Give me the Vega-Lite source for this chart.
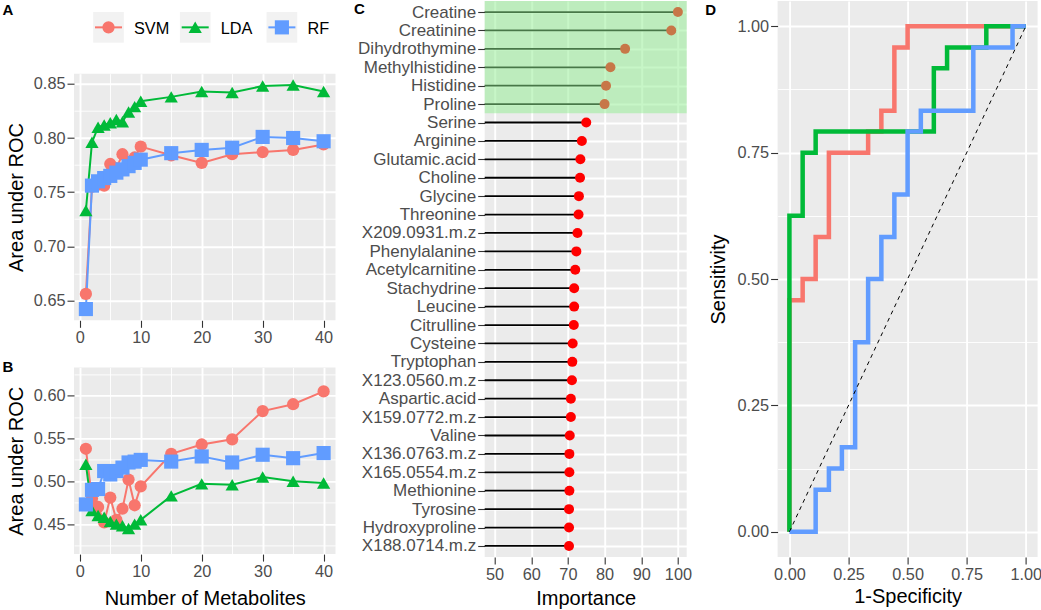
{
  "$schema": "https://vega.github.io/schema/vega-lite/v6.json",
  "padding": {"left": 2, "top": 0, "right": 0, "bottom": 0},
  "background": "white",
  "config": {
    "font": "Liberation Sans",
    "view": {"fill": "#EBEBEB", "stroke": null},
    "axis": {
      "domain": false,
      "gridColor": "white",
      "gridWidth": 1.9,
      "tickColor": "#333333",
      "tickSize": 7,
      "tickWidth": 1.1,
      "labelColor": "#4D4D4D",
      "labelFontSize": 16.3,
      "labelPadding": 2,
      "titleFontSize": 20,
      "titleFontWeight": "normal",
      "titleColor": "black"
    },
    "title": {"fontSize": 15, "fontWeight": "bold", "color": "black", "anchor": "start", "frame": "group", "offset": 0, "baseline": "alphabetic"}
  },
  "datasets": {
    "models": [{"model": "SVM"}, {"model": "LDA"}, {"model": "RF"}],
    "perfA": [
      {"model": "SVM", "n": 1, "auc": 0.656}, {"model": "SVM", "n": 2, "auc": 0.755}, {"model": "SVM", "n": 3, "auc": 0.757}, {"model": "SVM", "n": 4, "auc": 0.756},
      {"model": "SVM", "n": 5, "auc": 0.776}, {"model": "SVM", "n": 6, "auc": 0.772}, {"model": "SVM", "n": 7, "auc": 0.785}, {"model": "SVM", "n": 8, "auc": 0.778},
      {"model": "SVM", "n": 9, "auc": 0.782}, {"model": "SVM", "n": 10, "auc": 0.792}, {"model": "SVM", "n": 15, "auc": 0.784}, {"model": "SVM", "n": 20, "auc": 0.777},
      {"model": "SVM", "n": 25, "auc": 0.785}, {"model": "SVM", "n": 30, "auc": 0.787}, {"model": "SVM", "n": 35, "auc": 0.789}, {"model": "SVM", "n": 40, "auc": 0.794},
      {"model": "LDA", "n": 1, "auc": 0.733}, {"model": "LDA", "n": 2, "auc": 0.796}, {"model": "LDA", "n": 3, "auc": 0.810}, {"model": "LDA", "n": 4, "auc": 0.812},
      {"model": "LDA", "n": 5, "auc": 0.814}, {"model": "LDA", "n": 6, "auc": 0.817}, {"model": "LDA", "n": 7, "auc": 0.815}, {"model": "LDA", "n": 8, "auc": 0.824},
      {"model": "LDA", "n": 9, "auc": 0.829}, {"model": "LDA", "n": 10, "auc": 0.834}, {"model": "LDA", "n": 15, "auc": 0.838}, {"model": "LDA", "n": 20, "auc": 0.843},
      {"model": "LDA", "n": 25, "auc": 0.842}, {"model": "LDA", "n": 30, "auc": 0.848}, {"model": "LDA", "n": 35, "auc": 0.849}, {"model": "LDA", "n": 40, "auc": 0.843},
      {"model": "RF", "n": 1, "auc": 0.642}, {"model": "RF", "n": 2, "auc": 0.756}, {"model": "RF", "n": 3, "auc": 0.760}, {"model": "RF", "n": 4, "auc": 0.763},
      {"model": "RF", "n": 5, "auc": 0.765}, {"model": "RF", "n": 6, "auc": 0.768}, {"model": "RF", "n": 7, "auc": 0.771}, {"model": "RF", "n": 8, "auc": 0.774},
      {"model": "RF", "n": 9, "auc": 0.777}, {"model": "RF", "n": 10, "auc": 0.780}, {"model": "RF", "n": 15, "auc": 0.786}, {"model": "RF", "n": 20, "auc": 0.789},
      {"model": "RF", "n": 25, "auc": 0.791}, {"model": "RF", "n": 30, "auc": 0.801}, {"model": "RF", "n": 35, "auc": 0.800}, {"model": "RF", "n": 40, "auc": 0.797}
    ],
    "perfB": [
      {"model": "SVM", "n": 1, "auc": 0.538}, {"model": "SVM", "n": 2, "auc": 0.480}, {"model": "SVM", "n": 3, "auc": 0.470}, {"model": "SVM", "n": 4, "auc": 0.452},
      {"model": "SVM", "n": 5, "auc": 0.481}, {"model": "SVM", "n": 6, "auc": 0.455}, {"model": "SVM", "n": 7, "auc": 0.468}, {"model": "SVM", "n": 8, "auc": 0.502},
      {"model": "SVM", "n": 9, "auc": 0.472}, {"model": "SVM", "n": 10, "auc": 0.494}, {"model": "SVM", "n": 15, "auc": 0.532}, {"model": "SVM", "n": 20, "auc": 0.543},
      {"model": "SVM", "n": 25, "auc": 0.549}, {"model": "SVM", "n": 30, "auc": 0.582}, {"model": "SVM", "n": 35, "auc": 0.590}, {"model": "SVM", "n": 40, "auc": 0.605},
      {"model": "LDA", "n": 1, "auc": 0.520}, {"model": "LDA", "n": 2, "auc": 0.466}, {"model": "LDA", "n": 3, "auc": 0.460}, {"model": "LDA", "n": 4, "auc": 0.458},
      {"model": "LDA", "n": 5, "auc": 0.453}, {"model": "LDA", "n": 6, "auc": 0.450}, {"model": "LDA", "n": 7, "auc": 0.448}, {"model": "LDA", "n": 8, "auc": 0.445},
      {"model": "LDA", "n": 9, "auc": 0.450}, {"model": "LDA", "n": 10, "auc": 0.455}, {"model": "LDA", "n": 15, "auc": 0.483}, {"model": "LDA", "n": 20, "auc": 0.497},
      {"model": "LDA", "n": 25, "auc": 0.496}, {"model": "LDA", "n": 30, "auc": 0.505}, {"model": "LDA", "n": 35, "auc": 0.500}, {"model": "LDA", "n": 40, "auc": 0.498},
      {"model": "RF", "n": 1, "auc": 0.473}, {"model": "RF", "n": 2, "auc": 0.490}, {"model": "RF", "n": 3, "auc": 0.491}, {"model": "RF", "n": 4, "auc": 0.512},
      {"model": "RF", "n": 5, "auc": 0.508}, {"model": "RF", "n": 6, "auc": 0.512}, {"model": "RF", "n": 7, "auc": 0.516}, {"model": "RF", "n": 8, "auc": 0.522},
      {"model": "RF", "n": 9, "auc": 0.523}, {"model": "RF", "n": 10, "auc": 0.525}, {"model": "RF", "n": 15, "auc": 0.523}, {"model": "RF", "n": 20, "auc": 0.529},
      {"model": "RF", "n": 25, "auc": 0.522}, {"model": "RF", "n": 30, "auc": 0.531}, {"model": "RF", "n": 35, "auc": 0.527}, {"model": "RF", "n": 40, "auc": 0.533}
    ],
    "imp": [
      {"name": "Creatine", "imp": 100.0}, {"name": "Creatinine", "imp": 98.2}, {"name": "Dihydrothymine", "imp": 85.6},
      {"name": "Methylhistidine", "imp": 81.6}, {"name": "Histidine", "imp": 80.4}, {"name": "Proline", "imp": 80.0},
      {"name": "Serine", "imp": 75.0}, {"name": "Arginine", "imp": 73.8}, {"name": "Glutamic.acid", "imp": 73.4},
      {"name": "Choline", "imp": 73.3}, {"name": "Glycine", "imp": 73.0}, {"name": "Threonine", "imp": 72.9},
      {"name": "X209.0931.m.z", "imp": 72.6}, {"name": "Phenylalanine", "imp": 72.3}, {"name": "Acetylcarnitine", "imp": 72.0},
      {"name": "Stachydrine", "imp": 71.7}, {"name": "Leucine", "imp": 71.7}, {"name": "Citrulline", "imp": 71.6},
      {"name": "Cysteine", "imp": 71.3}, {"name": "Tryptophan", "imp": 71.2}, {"name": "X123.0560.m.z", "imp": 71.1},
      {"name": "Aspartic.acid", "imp": 70.8}, {"name": "X159.0772.m.z", "imp": 70.8}, {"name": "Valine", "imp": 70.5},
      {"name": "X136.0763.m.z", "imp": 70.4}, {"name": "X165.0554.m.z", "imp": 70.4}, {"name": "Methionine", "imp": 70.4},
      {"name": "Tyrosine", "imp": 70.3}, {"name": "Hydroxyproline", "imp": 70.3}, {"name": "X188.0714.m.z", "imp": 70.3}
    ],
    "roc": [
      {"model": "SVM", "k": 1, "fpr": 0, "tpr": 0}, {"model": "SVM", "k": 2, "fpr": 0, "tpr": 0.458}, {"model": "SVM", "k": 3, "fpr": 0.056, "tpr": 0.458},
      {"model": "SVM", "k": 4, "fpr": 0.056, "tpr": 0.5}, {"model": "SVM", "k": 5, "fpr": 0.111, "tpr": 0.5}, {"model": "SVM", "k": 6, "fpr": 0.111, "tpr": 0.583},
      {"model": "SVM", "k": 7, "fpr": 0.167, "tpr": 0.583}, {"model": "SVM", "k": 8, "fpr": 0.167, "tpr": 0.75}, {"model": "SVM", "k": 9, "fpr": 0.333, "tpr": 0.75},
      {"model": "SVM", "k": 10, "fpr": 0.333, "tpr": 0.792}, {"model": "SVM", "k": 11, "fpr": 0.389, "tpr": 0.792}, {"model": "SVM", "k": 12, "fpr": 0.389, "tpr": 0.833},
      {"model": "SVM", "k": 13, "fpr": 0.444, "tpr": 0.833}, {"model": "SVM", "k": 14, "fpr": 0.444, "tpr": 0.958}, {"model": "SVM", "k": 15, "fpr": 0.5, "tpr": 0.958},
      {"model": "SVM", "k": 16, "fpr": 0.5, "tpr": 1}, {"model": "SVM", "k": 17, "fpr": 1, "tpr": 1},
      {"model": "LDA", "k": 1, "fpr": 0, "tpr": 0}, {"model": "LDA", "k": 2, "fpr": 0, "tpr": 0.625}, {"model": "LDA", "k": 3, "fpr": 0.056, "tpr": 0.625},
      {"model": "LDA", "k": 4, "fpr": 0.056, "tpr": 0.75}, {"model": "LDA", "k": 5, "fpr": 0.111, "tpr": 0.75}, {"model": "LDA", "k": 6, "fpr": 0.111, "tpr": 0.792},
      {"model": "LDA", "k": 7, "fpr": 0.611, "tpr": 0.792}, {"model": "LDA", "k": 8, "fpr": 0.611, "tpr": 0.917}, {"model": "LDA", "k": 9, "fpr": 0.667, "tpr": 0.917},
      {"model": "LDA", "k": 10, "fpr": 0.667, "tpr": 0.958}, {"model": "LDA", "k": 11, "fpr": 0.833, "tpr": 0.958}, {"model": "LDA", "k": 12, "fpr": 0.833, "tpr": 1},
      {"model": "LDA", "k": 13, "fpr": 1, "tpr": 1},
      {"model": "RF", "k": 1, "fpr": 0, "tpr": 0}, {"model": "RF", "k": 2, "fpr": 0.111, "tpr": 0}, {"model": "RF", "k": 3, "fpr": 0.111, "tpr": 0.083},
      {"model": "RF", "k": 4, "fpr": 0.167, "tpr": 0.083}, {"model": "RF", "k": 5, "fpr": 0.167, "tpr": 0.125}, {"model": "RF", "k": 6, "fpr": 0.222, "tpr": 0.125},
      {"model": "RF", "k": 7, "fpr": 0.222, "tpr": 0.167}, {"model": "RF", "k": 8, "fpr": 0.278, "tpr": 0.167}, {"model": "RF", "k": 9, "fpr": 0.278, "tpr": 0.375},
      {"model": "RF", "k": 10, "fpr": 0.333, "tpr": 0.375}, {"model": "RF", "k": 11, "fpr": 0.333, "tpr": 0.5}, {"model": "RF", "k": 12, "fpr": 0.389, "tpr": 0.5},
      {"model": "RF", "k": 13, "fpr": 0.389, "tpr": 0.583}, {"model": "RF", "k": 14, "fpr": 0.444, "tpr": 0.583}, {"model": "RF", "k": 15, "fpr": 0.444, "tpr": 0.667},
      {"model": "RF", "k": 16, "fpr": 0.5, "tpr": 0.667}, {"model": "RF", "k": 17, "fpr": 0.5, "tpr": 0.792}, {"model": "RF", "k": 18, "fpr": 0.556, "tpr": 0.792},
      {"model": "RF", "k": 19, "fpr": 0.556, "tpr": 0.833}, {"model": "RF", "k": 20, "fpr": 0.778, "tpr": 0.833}, {"model": "RF", "k": 21, "fpr": 0.778, "tpr": 0.958},
      {"model": "RF", "k": 22, "fpr": 0.944, "tpr": 0.958}, {"model": "RF", "k": 23, "fpr": 0.944, "tpr": 1}, {"model": "RF", "k": 24, "fpr": 1, "tpr": 1}
    ],
    "diag": [{"fpr": 0, "tpr": 0}, {"fpr": 1, "tpr": 1}]
  },
  "bounds": "full",
  "spacing": 17.7,
  "hconcat": [
    {
      "bounds": "flush",
      "spacing": 46.7,
      "vconcat": [
        {
          "width": 242.4,
          "height": 26,
          "view": {"fill": null, "stroke": null},
          "title": {"text": "A", "dx": -71.5, "dy": 20.5},
          "data": {"name": "models"},
          "encoding": {
            "x": {"field": "model", "type": "nominal", "sort": null, "scale": {"type": "point", "padding": 0.398}, "axis": null}
          },
          "layer": [
            {"mark": {"type": "square", "size": 940, "color": "#F2F2F2", "opacity": 1, "yOffset": 13.35}},
            {
              "mark": {"type": "tick", "orient": "horizontal", "size": 27, "thickness": 2, "opacity": 1, "yOffset": 13.35},
              "encoding": {"color": {"field": "model", "type": "nominal", "scale": {"domain": ["SVM", "LDA", "RF"], "range": ["#F8766D", "#00BA38", "#619CFF"]}, "legend": null}}
            },
            {
              "mark": {"type": "point", "filled": true, "opacity": 1, "yOffset": 13.35},
              "encoding": {
                "color": {"field": "model", "type": "nominal", "scale": {"domain": ["SVM", "LDA", "RF"], "range": ["#F8766D", "#00BA38", "#619CFF"]}, "legend": null},
                "shape": {"field": "model", "type": "nominal", "scale": {"domain": ["SVM", "LDA", "RF"], "range": ["circle", "triangle-up", "square"]}, "legend": null},
                "size": {"field": "model", "type": "ordinal", "scale": {"domain": ["SVM", "LDA", "RF"], "range": [150, 200, 170]}, "legend": null}
              }
            },
            {
              "mark": {"type": "text", "align": "left", "baseline": "middle", "dx": 25.5, "yOffset": 14.5, "fontSize": 16.3, "color": "black"},
              "encoding": {"text": {"field": "model", "type": "nominal"}}
            }
          ]
        },
        {
          "width": 261.5,
          "height": 246.6,
          "data": {"name": "perfA"},
          "encoding": {
            "x": {
              "field": "n", "type": "quantitative",
              "scale": {"domain": [-0.95, 41.95], "nice": false, "zero": false},
              "axis": {
                "title": null,
                "values": [0, 5, 10, 15, 20, 25, 30, 35, 40],
                "labelExpr": "datum.value % 10 === 0 ? datum.label : ''",
                "gridWidth": {"condition": {"test": "datum.value % 10 === 0", "value": 1.9}, "value": 0.9},
                "tickOpacity": {"condition": {"test": "datum.value % 10 === 0", "value": 1}, "value": 0}
              }
            },
            "y": {
              "field": "auc", "type": "quantitative",
              "scale": {"domain": [0.6316, 0.8594], "nice": false, "zero": false},
              "axis": {
                "title": "Area under ROC",
                "titlePadding": 6.5,
                "format": ".2f",
                "values": [0.65, 0.675, 0.7, 0.725, 0.75, 0.775, 0.8, 0.825, 0.85],
                "labelExpr": "abs(datum.value*20 - round(datum.value*20)) < 0.001 ? datum.label : ''",
                "gridWidth": {"condition": {"test": "abs(datum.value*20 - round(datum.value*20)) < 0.001", "value": 1.9}, "value": 0.9},
                "tickOpacity": {"condition": {"test": "abs(datum.value*20 - round(datum.value*20)) < 0.001", "value": 1}, "value": 0}
              }
            },
            "color": {"field": "model", "type": "nominal", "scale": {"domain": ["SVM", "LDA", "RF"], "range": ["#F8766D", "#00BA38", "#619CFF"]}, "legend": null}
          },
          "layer": [
            {"mark": {"type": "line", "strokeWidth": 2}},
            {
              "mark": {"type": "point", "filled": true, "opacity": 1},
              "encoding": {
                "shape": {"field": "model", "type": "nominal", "scale": {"domain": ["SVM", "LDA", "RF"], "range": ["circle", "triangle-up", "square"]}, "legend": null},
                "size": {"field": "model", "type": "ordinal", "scale": {"domain": ["SVM", "LDA", "RF"], "range": [150, 200, 170]}, "legend": null}
              }
            }
          ]
        },
        {
          "width": 261.5,
          "height": 186.7,
          "title": {"text": "B", "dx": -71.5, "dy": 11.9},
          "data": {"name": "perfB"},
          "encoding": {
            "x": {
              "field": "n", "type": "quantitative",
              "scale": {"domain": [-0.95, 41.95], "nice": false, "zero": false},
              "axis": {
                "title": "Number of Metabolites",
                "titlePadding": 9,
                "values": [0, 5, 10, 15, 20, 25, 30, 35, 40],
                "labelExpr": "datum.value % 10 === 0 ? datum.label : ''",
                "gridWidth": {"condition": {"test": "datum.value % 10 === 0", "value": 1.9}, "value": 0.9},
                "tickOpacity": {"condition": {"test": "datum.value % 10 === 0", "value": 1}, "value": 0}
              }
            },
            "y": {
              "field": "auc", "type": "quantitative",
              "scale": {"domain": [0.415, 0.633], "nice": false, "zero": false},
              "axis": {
                "title": "Area under ROC",
                "titlePadding": 6.5,
                "format": ".2f",
                "values": [0.425, 0.45, 0.475, 0.5, 0.525, 0.55, 0.575, 0.6, 0.625],
                "labelExpr": "abs(datum.value*20 - round(datum.value*20)) < 0.001 ? datum.label : ''",
                "gridWidth": {"condition": {"test": "abs(datum.value*20 - round(datum.value*20)) < 0.001", "value": 1.9}, "value": 0.9},
                "tickOpacity": {"condition": {"test": "abs(datum.value*20 - round(datum.value*20)) < 0.001", "value": 1}, "value": 0}
              }
            },
            "color": {"field": "model", "type": "nominal", "scale": {"domain": ["SVM", "LDA", "RF"], "range": ["#F8766D", "#00BA38", "#619CFF"]}, "legend": null}
          },
          "layer": [
            {"mark": {"type": "line", "strokeWidth": 2}},
            {
              "mark": {"type": "point", "filled": true, "opacity": 1},
              "encoding": {
                "shape": {"field": "model", "type": "nominal", "scale": {"domain": ["SVM", "LDA", "RF"], "range": ["circle", "triangle-up", "square"]}, "legend": null},
                "size": {"field": "model", "type": "ordinal", "scale": {"domain": ["SVM", "LDA", "RF"], "range": [150, 200, 170]}, "legend": null}
              }
            }
          ]
        }
      ]
    },
    {
      "bounds": "full",
      "spacing": 12.9,
      "hconcat": [
        {
          "width": 202,
          "height": 556,
          "title": {"text": "C", "dx": -130.6, "dy": 20.5},
          "data": {"name": "imp"},
          "encoding": {
            "y": {
              "field": "name", "type": "nominal", "sort": null,
              "scale": {"type": "point", "padding": 0.6, "domain": ["Creatine", "Creatinine", "Dihydrothymine", "Methylhistidine", "Histidine", "Proline", "Serine", "Arginine", "Glutamic.acid", "Choline", "Glycine", "Threonine", "X209.0931.m.z", "Phenylalanine", "Acetylcarnitine", "Stachydrine", "Leucine", "Citrulline", "Cysteine", "Tryptophan", "X123.0560.m.z", "Aspartic.acid", "X159.0772.m.z", "Valine", "X136.0763.m.z", "X165.0554.m.z", "Methionine", "Tyrosine", "Hydroxyproline", "X188.0714.m.z"]},
              "axis": {"title": null, "labelFontSize": 17, "grid": true}
            }
          },
          "layer": [
            {
              "mark": {"type": "rule", "color": "black", "strokeWidth": 1.8, "clip": true},
              "encoding": {
                "x": {"field": "imp", "type": "quantitative", "scale": {"domain": [47.3, 102.4], "nice": false, "zero": false}},
                "x2": {"datum": 0}
              }
            },
            {
              "mark": {"type": "circle", "color": "#FF0000", "size": 100, "opacity": 1},
              "encoding": {
                "x": {
                  "field": "imp", "type": "quantitative",
                  "scale": {"domain": [47.3, 102.4], "nice": false, "zero": false},
                  "axis": {
                    "title": "Importance",
                    "titlePadding": 6.5,
                    "values": [50, 55, 60, 65, 70, 75, 80, 85, 90, 95, 100],
                    "labelExpr": "datum.value % 10 === 0 ? datum.label : ''",
                    "gridWidth": {"condition": {"test": "datum.value % 10 === 0", "value": 1.9}, "value": 0.9},
                    "tickOpacity": {"condition": {"test": "datum.value % 10 === 0", "value": 1}, "value": 0}
                  }
                }
              }
            },
            {
              "data": {"values": [{"top": "Creatine", "bottom": "Proline"}]},
              "mark": {"type": "rect", "color": "lightgreen", "opacity": 0.5, "yOffset": -11.05, "y2Offset": 9.2},
              "encoding": {
                "y": {"field": "top", "type": "nominal"},
                "y2": {"field": "bottom"}
              }
            }
          ]
        },
        {
          "width": 260,
          "height": 556,
          "title": {"text": "D", "dx": -72.3, "dy": 20.5},
          "layer": [
            {
              "data": {"name": "roc"},
              "mark": {"type": "line", "strokeWidth": 4.5, "strokeJoin": "miter", "strokeCap": "butt"},
              "encoding": {
                "x": {
                  "field": "fpr", "type": "quantitative",
                  "scale": {"domain": [-0.05, 1.05], "nice": false, "zero": false},
                  "axis": {
                    "title": "1-Specificity",
                    "titlePadding": 4.5,
                    "format": ".2f",
                    "values": [0, 0.125, 0.25, 0.375, 0.5, 0.625, 0.75, 0.875, 1],
                    "labelExpr": "(datum.value*4) % 1 === 0 ? datum.label : ''",
                    "gridWidth": {"condition": {"test": "(datum.value*4) % 1 === 0", "value": 1.9}, "value": 0.9},
                    "tickOpacity": {"condition": {"test": "(datum.value*4) % 1 === 0", "value": 1}, "value": 0}
                  }
                },
                "y": {
                  "field": "tpr", "type": "quantitative",
                  "scale": {"domain": [-0.05, 1.05], "nice": false, "zero": false},
                  "axis": {
                    "title": "Sensitivity",
                    "titlePadding": 8,
                    "format": ".2f",
                    "values": [0, 0.125, 0.25, 0.375, 0.5, 0.625, 0.75, 0.875, 1],
                    "labelExpr": "(datum.value*4) % 1 === 0 ? datum.label : ''",
                    "gridWidth": {"condition": {"test": "(datum.value*4) % 1 === 0", "value": 1.9}, "value": 0.9},
                    "tickOpacity": {"condition": {"test": "(datum.value*4) % 1 === 0", "value": 1}, "value": 0}
                  }
                },
                "color": {"field": "model", "type": "nominal", "scale": {"domain": ["SVM", "LDA", "RF"], "range": ["#F8766D", "#00BA38", "#619CFF"]}, "legend": null},
                "order": {"field": "k", "type": "quantitative"}
              }
            },
            {
              "data": {"name": "diag"},
              "mark": {"type": "line", "color": "black", "strokeWidth": 1, "strokeDash": [4, 4]},
              "encoding": {
                "x": {"field": "fpr", "type": "quantitative"},
                "y": {"field": "tpr", "type": "quantitative"}
              }
            }
          ]
        }
      ]
    }
  ]
}
